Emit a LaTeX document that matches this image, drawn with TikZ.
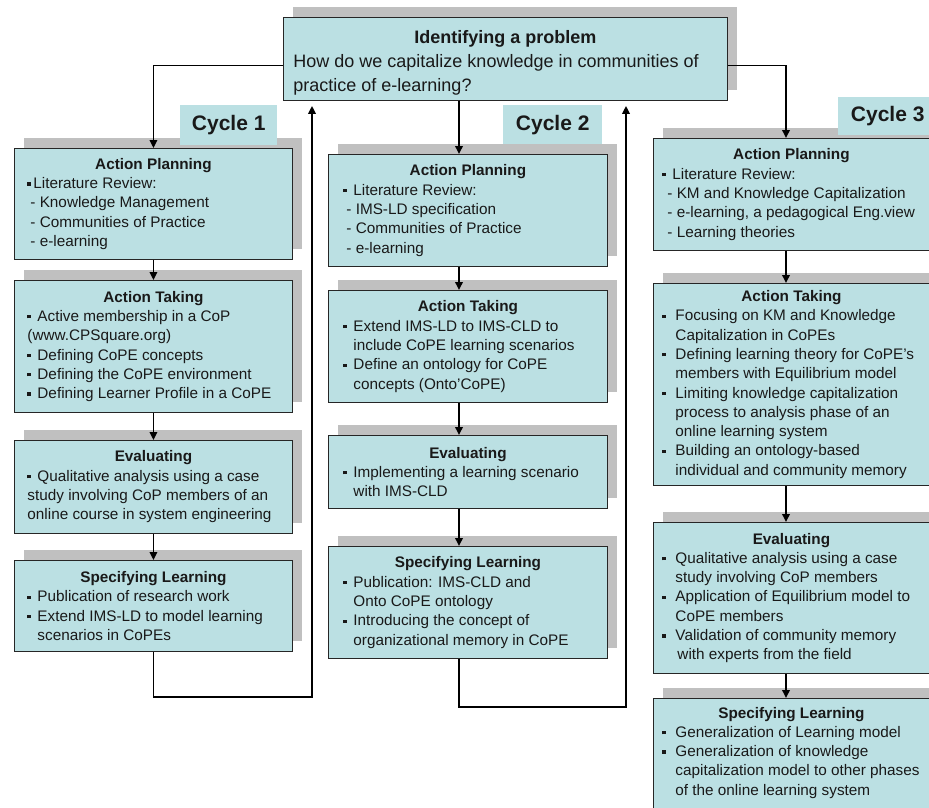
\documentclass[tikz,border=0pt]{standalone}
\usepackage{fontspec}
\setmainfont{Liberation Sans}
\usetikzlibrary{arrows.meta,shadows}
\definecolor{boxfill}{HTML}{BBE0E3}
\definecolor{shadowgray}{HTML}{C0C0C0}
\newcommand\bul{\makebox[10pt][l]{\rule[3pt]{3.2pt}{3.2pt}}}
\newcommand\bulz{\makebox[6pt][l]{\rule[3pt]{3.2pt}{3.2pt}}}
\newcommand\bulb{\makebox[13pt][l]{\rule[3pt]{3.2pt}{3.2pt}}}
\newcommand\indA{\hspace*{10pt}}
\newcommand\indB{\hspace*{13pt}}
\newcommand\dsh{\hspace*{3pt}- }
\newcommand\ttl[2]{\makebox[#1][c]{\bfseries #2}}
\begin{document}
\begin{tikzpicture}[x=1pt,y=-1pt,
  box/.style={draw=black!85, line width=0.9pt, fill=boxfill, anchor=north west,
    align=left, inner ysep=0pt, text=black!90,
    font=\fontsize{15.3}{19.3}\selectfont,
    general shadow={fill=shadowgray, shadow xshift=10pt, shadow yshift=10pt}},
  col1/.style={box, minimum width=278pt, inner xsep=13pt},
  col2/.style={box, minimum width=279pt, inner xsep=15pt},
  col3/.style={box, minimum width=276pt, inner xsep=9pt},
  cyc/.style={fill=boxfill, anchor=north west, inner sep=0pt, text=black!90,
    font=\fontsize{21}{25}\selectfont\bfseries},
  arr/.style={line width=1.8pt, draw=black, -{Triangle[length=8pt,width=7.5pt]}}]
\useasboundingbox (0,0) rectangle (929,807);
\fill[white] (0,0) rectangle (929,807);

% top box
\node[box, minimum width=444pt, minimum height=83pt, inner xsep=10pt,
  font=\fontsize{18}{24}\selectfont] (top) at (283,17)
  {\rule{0pt}{21pt}\ttl{424pt}{Identifying a problem}\\
   How do we capitalize knowledge in communities of\\
   practice of e-learning?};

% column 1
\node[col1, minimum height=111pt] (ap1) at (14,148)
  {\ttl{252pt}{Action Planning}\\
   \bulz Literature Review:\\
   \dsh Knowledge Management\\
   \dsh Communities of Practice\\
   \dsh e-learning};
\node[col1, minimum height=132pt] (at1) at (14,280)
  {\ttl{252pt}{Action Taking}\\
   \bul Active membership in a CoP\\
   (www.CPSquare.org)\\
   \bul Defining CoPE concepts\\
   \bul Defining the CoPE environment\\
   \bul Defining Learner Profile in a CoPE};
\node[col1, minimum height=93pt] (ev1) at (14,440)
  {\ttl{252pt}{Evaluating}\\
   \bul Qualitative analysis using a case\\
   study involving CoP members of an\\
   online course in system engineering};
\node[col1, minimum height=91pt] (sl1) at (14,560)
  {\ttl{252pt}{Specifying Learning}\\
   \bul Publication of research work\\
   \bul Extend IMS-LD to model learning\\
   \indA scenarios in CoPEs};

% column 2
\node[col2, minimum height=112pt] (ap2) at (328,154)
  {\ttl{249pt}{Action Planning}\\
   \bul Literature Review:\\
   \dsh IMS-LD specification\\
   \dsh Communities of Practice\\
   \dsh e-learning};
\node[col2, minimum height=112pt] (at2) at (328,290)
  {\ttl{249pt}{Action Taking}\\
   \bul Extend IMS-LD to IMS-CLD to\\
   \indA include CoPE learning scenarios\\
   \bul Define an ontology for CoPE\\
   \indA concepts (Onto'CoPE)};
\node[col2, minimum height=73pt] (ev2) at (328,435)
  {\ttl{249pt}{Evaluating}\\
   \bul Implementing a learning scenario\\
   \indA with IMS-CLD};
\node[col2, minimum height=112pt] (sl2) at (328,546)
  {\ttl{249pt}{Specifying Learning}\\
   \bul Publication: IMS-CLD and\\
   \indA Onto CoPE ontology\\
   \bul Introducing the concept of\\
   \indA organizational memory in CoPE};

% column 3
\node[col3, minimum height=112pt] (ap3) at (653,138)
  {\ttl{258pt}{Action Planning}\\
   \bul Literature Review:\\
   \hspace*{5pt}- KM and Knowledge Capitalization\\
   \hspace*{5pt}- e-learning, a pedagogical Eng.view\\
   \hspace*{5pt}- Learning theories};
\node[col3, minimum height=202pt] (at3) at (653,283)
  {\ttl{258pt}{Action Taking}\\
   \bulb Focusing on KM and Knowledge\\
   \indB Capitalization in CoPEs\\
   \bulb Defining learning theory for CoPE's\\
   \indB members with Equilibrium model\\
   \bulb Limiting knowledge capitalization\\
   \indB process to analysis phase of an\\
   \indB online learning system\\
   \bulb Building an ontology-based\\
   \indB individual and community memory};
\node[col3, minimum height=151pt] (ev3) at (653,522)
  {\ttl{258pt}{Evaluating}\\
   \bulb Qualitative analysis using a case\\
   \indB study involving CoP members\\
   \bulb Application of Equilibrium model to\\
   \indB CoPE members\\
   \bulb Validation of community memory\\
   \hspace*{15pt}with experts from the field};
\node[col3, inner ysep=8.5pt] (sl3) at (653,698)
  {\ttl{258pt}{Specifying Learning}\\
   \bulb Generalization of Learning model\\
   \bulb Generalization of knowledge\\
   \indB capitalization model to other phases\\
   \indB of the online learning system\rule[-25pt]{0pt}{25pt}};

% cycle labels
\node[cyc, minimum width=97pt, minimum height=40pt] (cy1) at (180,105) {Cycle 1};
\node[cyc, minimum width=99pt, minimum height=39pt] (cy2) at (503,105) {Cycle 2};
\node[cyc, minimum width=99pt, minimum height=38pt] (cy3) at (838,97) {Cycle 3};

% connector guide coordinates
\coordinate (c2) at (459,0);
\coordinate (c3) at (786,0);
\coordinate (l1) at (312,697);
\coordinate (l2) at (626,707);

% connectors
\draw[arr] ([yshift=-6.5pt]top.west) -| (ap1.north);
\draw[arr] (ap1.south) -- (at1.north);
\draw[arr] (at1.south) -- (ev1.north);
\draw[arr] (ev1.south) -- (sl1.north);
\draw[arr, shorten >=5pt] (sl1.south) |- (l1) -- (top.south -| l1);

\draw[arr] (top.south -| c2) -- (ap2.north -| c2);
\draw[arr] (ap2.south -| c2) -- (at2.north -| c2);
\draw[arr] (at2.south -| c2) -- (ev2.north -| c2);
\draw[arr] (ev2.south -| c2) -- (sl2.north -| c2);
\draw[arr, shorten >=5pt] (sl2.south -| c2) |- (l2) -- (top.south -| l2);

\draw[arr] ([yshift=-6.5pt]top.east) -| (ap3.north -| c3);
\draw[arr] (ap3.south -| c3) -- (at3.north -| c3);
\draw[arr] (at3.south -| c3) -- (ev3.north -| c3);
\draw[arr] (ev3.south -| c3) -- (sl3.north -| c3);
\end{tikzpicture}
\end{document}
